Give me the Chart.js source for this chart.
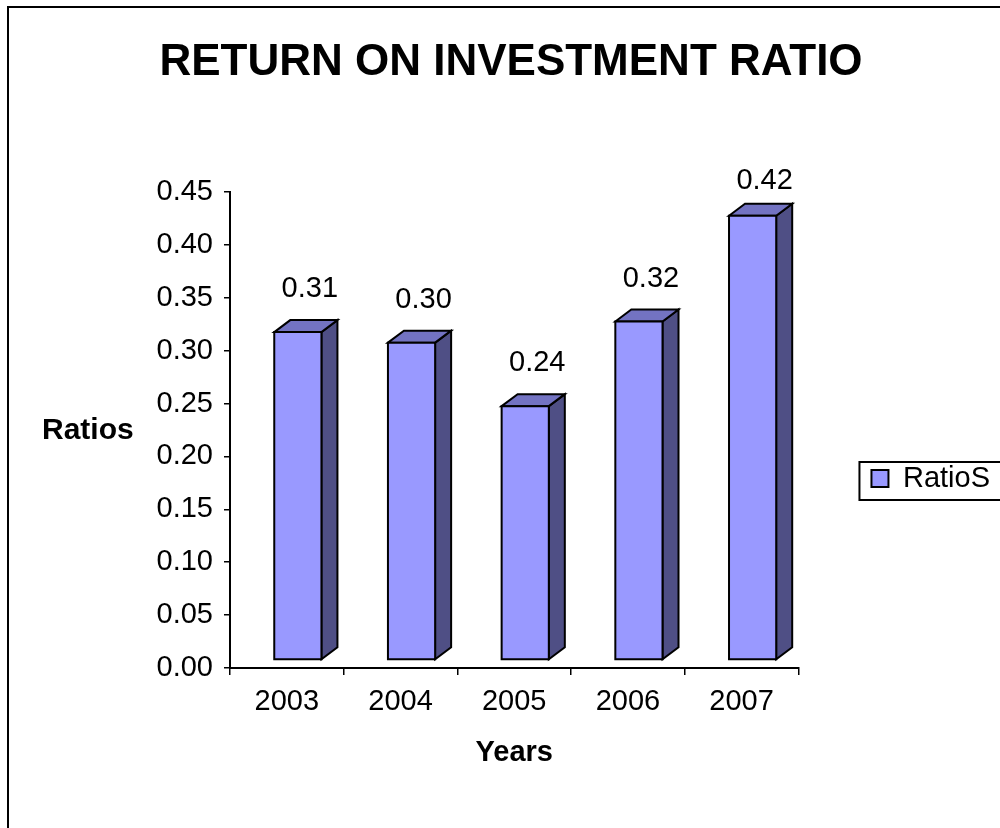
<!DOCTYPE html>
<html>
<head>
<meta charset="utf-8">
<title>Return on investment ratio</title>
<script src="https://cdn.jsdelivr.net/npm/chart.js@4.4.1/dist/chart.umd.min.js"></script>
<style>
  html, body { margin: 0; padding: 0; background: #fff; overflow: hidden; }
  #frame { position: absolute; left: 7px; top: 6px; width: 1100px; height: 1000px; border: 2px solid #000; }
  #roiChart { position: absolute; left: 0; top: 0; }
</style>
</head>
<body>
<div id="frame"></div>
<canvas id="roiChart" width="1000" height="828"></canvas>
<script>
const years = ['2003', '2004', '2005', '2006', '2007'];
const ratios = [0.31, 0.30, 0.24, 0.32, 0.42];
const seriesName = 'RatioS';
const yMin = 0;
const yMax = 0.45;
const yStep = 0.05;

const FONT = '"Liberation Sans", Arial, sans-serif';
Chart.defaults.font.family = FONT;
Chart.defaults.color = '#000';

// the front of each column sits a bit behind the axis plane, depth goes up and right
const FRONT = { dx: 11, dy: 8 };
const DEPTH = { dx: 16, dy: 12 };
const TOP_COLOR = '#7373C2';
const SIDE_COLOR = '#4F4F85';

function face(ctx, pts, fill) {
  ctx.beginPath();
  ctx.moveTo(pts[0][0], pts[0][1]);
  for (let i = 1; i < pts.length; i++) ctx.lineTo(pts[i][0], pts[i][1]);
  ctx.closePath();
  ctx.fillStyle = fill;
  ctx.fill();
  ctx.stroke();
}

const columns3d = {
  id: 'columns3d',
  beforeDatasetDraw(chart, args) {
    const ds = chart.data.datasets[args.index];
    const ctx = chart.ctx;
    ctx.save();
    ctx.lineWidth = ds.borderWidth;
    ctx.strokeStyle = ds.borderColor;
    args.meta.data.forEach(bar => {
      const { x, y, base, width } = bar.getProps(['x', 'y', 'base', 'width'], true);
      const l = x - width / 2 + FRONT.dx;
      const r = x + width / 2 + FRONT.dx;
      const t = y - FRONT.dy;
      const b = base - FRONT.dy;
      face(ctx, [[r, t], [r + DEPTH.dx, t - DEPTH.dy], [r + DEPTH.dx, b - DEPTH.dy], [r, b]], SIDE_COLOR);
      face(ctx, [[l, t], [l + DEPTH.dx, t - DEPTH.dy], [r + DEPTH.dx, t - DEPTH.dy], [r, t]], TOP_COLOR);
      face(ctx, [[l, t], [r, t], [r, b], [l, b]], ds.backgroundColor);
    });
    ctx.restore();
    return false;
  },
  afterDatasetsDraw(chart) {
    const ctx = chart.ctx;
    const values = chart.data.datasets[0].data;
    ctx.save();
    ctx.font = '29px ' + FONT;
    ctx.fillStyle = '#000';
    ctx.textAlign = 'center';
    ctx.textBaseline = 'middle';
    chart.getDatasetMeta(0).data.forEach((bar, i) => {
      const { x, y } = bar.getProps(['x', 'y'], true);
      // keep the top label from climbing over the axis end
      const ly = Math.max(y - FRONT.dy - 43, chart.chartArea.top - 11);
      ctx.fillText(values[i].toFixed(2), x + FRONT.dx + 12, ly);
    });
    ctx.restore();
  },
  afterDraw(chart) {
    const ctx = chart.ctx;
    ctx.save();
    // horizontal y axis caption
    ctx.font = 'bold 30px ' + FONT;
    ctx.fillStyle = '#000';
    ctx.textAlign = 'left';
    ctx.textBaseline = 'middle';
    const area = chart.chartArea;
    ctx.fillText('Ratios', 42, (area.top + area.bottom) / 2 + 1);
    // frame round the legend
    const hb = chart.legend.legendHitBoxes[0];
    if (hb) {
      ctx.lineWidth = 2;
      ctx.strokeStyle = '#000';
      ctx.strokeRect(hb.left - 12, hb.top - 2, 200, 38);
    }
    ctx.restore();
  }
};

new Chart(document.getElementById('roiChart'), {
  type: 'bar',
  data: {
    labels: years,
    datasets: [{
      label: seriesName,
      data: ratios,
      backgroundColor: '#9999FF',
      borderColor: '#000',
      borderWidth: 2,
      categoryPercentage: 1,
      barPercentage: 0.415
    }]
  },
  options: {
    responsive: false,
    animation: false,
    layout: { padding: { left: 22, right: 0, top: 0, bottom: 0 } },
    plugins: {
      tooltip: { enabled: false },
      title: {
        display: true,
        text: 'RETURN ON INVESTMENT RATIO',
        color: '#000',
        font: { size: 44, weight: 'bold' },
        padding: { top: 36.6, bottom: 102.6 }
      },
      legend: {
        position: 'right',
        title: { display: true, text: '', padding: { top: 0, bottom: 114.6 } },
        labels: {
          boxWidth: 17,
          boxHeight: 17,
          padding: 73,
          color: '#000',
          font: { size: 29 }
        }
      }
    },
    scales: {
      x: {
        grid: { drawOnChartArea: false, offset: true, tickLength: 7, color: '#000', lineWidth: 1.5 },
        border: { color: '#000', width: 2 },
        ticks: { padding: 10, color: '#000', font: { size: 29 } },
        title: {
          display: true,
          text: 'Years',
          color: '#000',
          font: { size: 29, weight: 'bold' },
          padding: { top: 0, bottom: 57.6 }
        },
        afterFit(scale) { scale.height = 160; }
      },
      y: {
        min: yMin,
        max: yMax,
        grid: { drawOnChartArea: false, tickLength: 6, color: '#000', lineWidth: 1.5 },
        border: { color: '#000', width: 2 },
        ticks: {
          stepSize: yStep,
          padding: 11,
          color: '#000',
          font: { size: 29 },
          callback: v => v.toFixed(2)
        },
        afterFit(scale) { scale.width = 208; }
      }
    }
  },
  plugins: [columns3d]
});
</script>
</body>
</html>
